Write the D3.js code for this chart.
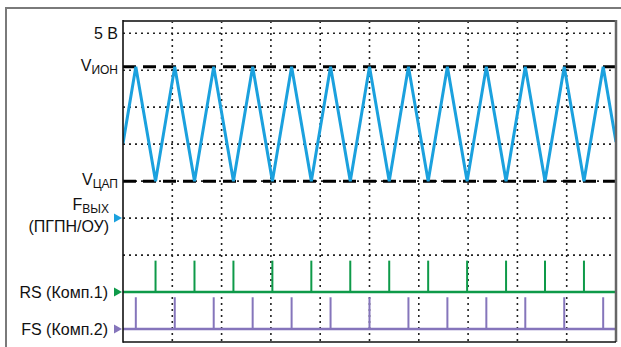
<!DOCTYPE html>
<html>
<head>
<meta charset="utf-8">
<script src="https://cdn.jsdelivr.net/npm/d3@7"></script>
<style>
  body { margin: 0; background: #fff; }
  text { font-family: "Liberation Sans", Arial, sans-serif; fill: #111; }
</style>
</head>
<body>
<script>
// time in grid divisions, levels in volts (1 division = 1 V)
const peakTimes = [0.26, 1.05, 1.84, 2.63, 3.42, 4.21, 5.00, 5.79, 6.58, 7.37, 8.16, 8.95, 9.74]
const troughTimes = [0.66, 1.45, 2.24, 3.03, 3.82, 4.61, 5.40, 6.19, 6.98, 7.77, 8.56, 9.35]
const waveEnds = [2.02, 2.06]        // wave value at left / right edge
const vIon = 4.09
const vDac = 1.0
const gridTimes = [1, 2, 3, 4, 5, 6, 7, 8, 9]
const gridLevels = [5, 4, 3, 2, 1, 0, -1, -2, -3]
const rsLevels = [-2, -1.15]         // baseline, pulse top
const fsLevels = [-3, -2.14]
const fLevel = 0

const colors = { wave: '#1ba1de', rs: '#0e9a49', fs: '#8575bb' }

const W = 621, H = 347
const plot = { left: 123, right: 616, top: 21, bottom: 342 }

const x = d3.scaleLinear().domain([0, 10]).range([plot.left, plot.right])
const y = d3.scaleLinear().domain([-3.35, 5.33]).range([plot.bottom, plot.top])

const svg = d3.select('body').append('svg')
  .attr('width', W)
  .attr('height', H)

// outer frame (runs off the right/bottom edge)
svg.append('rect')
  .attr('x', 6).attr('y', 8)
  .attr('width', 700).attr('height', 400)
  .attr('fill', 'none')
  .attr('stroke', '#7a7a7a')
  .attr('stroke-width', 2)

svg.append('clipPath').attr('id', 'clip')
  .append('rect')
  .attr('x', plot.left).attr('y', plot.top)
  .attr('width', plot.right - plot.left)
  .attr('height', plot.bottom - plot.top)

const g = svg.append('g').attr('clip-path', 'url(#clip)')

// dotted grid
g.selectAll('.hgrid')
  .data(gridLevels)
  .enter().append('line')
  .attr('class', 'hgrid')
  .attr('x1', plot.left).attr('x2', plot.right)
  .attr('y1', d => y(d)).attr('y2', d => y(d))
  .attr('stroke', '#222')
  .attr('stroke-width', 1.6)
  .attr('stroke-dasharray', '2,4')

g.selectAll('.vgrid')
  .data(gridTimes)
  .enter().append('line')
  .attr('class', 'vgrid')
  .attr('x1', d => x(d)).attr('x2', d => x(d))
  .attr('y1', plot.top).attr('y2', plot.bottom)
  .attr('stroke', '#222')
  .attr('stroke-width', 1.6)
  .attr('stroke-dasharray', '2,4')

// reference levels
g.selectAll('.ref')
  .data([vIon, vDac])
  .enter().append('line')
  .attr('class', 'ref')
  .attr('x1', plot.left).attr('x2', plot.right)
  .attr('y1', d => y(d)).attr('y2', d => y(d))
  .attr('stroke', '#000')
  .attr('stroke-width', 3)
  .attr('stroke-dasharray', '13,7')

// triangle wave
const wavePts = [[0, waveEnds[0]]]
  .concat(peakTimes.map(t => [t, vIon]))
  .concat(troughTimes.map(t => [t, vDac]))
  .concat([[10, waveEnds[1]]])
  .sort((a, b) => a[0] - b[0])

g.append('path')
  .datum(wavePts)
  .attr('fill', 'none')
  .attr('stroke', colors.wave)
  .attr('stroke-width', 3)
  .attr('stroke-linejoin', 'miter')
  .attr('d', d3.line().x(d => x(d[0])).y(d => y(d[1])))

// comparator pulses
function drawPulses(times, levels, color) {
  g.append('line')
    .attr('x1', plot.left).attr('x2', plot.right)
    .attr('y1', y(levels[0])).attr('y2', y(levels[0]))
    .attr('stroke', color)
    .attr('stroke-width', 2.6)
  g.selectAll(null)
    .data(times)
    .enter().append('line')
    .attr('x1', d => x(d)).attr('x2', d => x(d))
    .attr('y1', y(levels[0])).attr('y2', y(levels[1]))
    .attr('stroke', color)
    .attr('stroke-width', 2)
}
drawPulses(troughTimes, rsLevels, colors.rs)
drawPulses(peakTimes, fsLevels, colors.fs)

// plot box
svg.append('line').attr('x1', plot.left).attr('x2', plot.right)
  .attr('y1', plot.top).attr('y2', plot.top)
  .attr('stroke', '#444').attr('stroke-width', 1.8)
svg.append('line').attr('x1', plot.right).attr('x2', plot.right)
  .attr('y1', plot.top - 1).attr('y2', plot.bottom)
  .attr('stroke', '#666').attr('stroke-width', 2.5)
svg.append('line').attr('x1', plot.left).attr('x2', plot.left)
  .attr('y1', plot.top - 1).attr('y2', plot.bottom + 0.8)
  .attr('stroke', '#111').attr('stroke-width', 1.6)
svg.append('line').attr('x1', plot.left).attr('x2', plot.right)
  .attr('y1', plot.bottom).attr('y2', plot.bottom)
  .attr('stroke', '#111').attr('stroke-width', 1.6)

// arrow markers
const arrows = [[fLevel, colors.wave], [rsLevels[0], colors.rs], [fsLevels[0], colors.fs]]
svg.selectAll('.arrow')
  .data(arrows)
  .enter().append('path')
  .attr('class', 'arrow')
  .attr('d', d => `M${plot.left - 9},${y(d[0]) - 4.5}L${plot.left - 1},${y(d[0])}L${plot.left - 9},${y(d[0]) + 4.5}Z`)
  .attr('fill', d => d[1])

// labels
const labels = svg.append('g').attr('font-size', '16px')

labels.append('text')
  .attr('x', 118).attr('y', y(5) + 5.5)
  .attr('text-anchor', 'end')
  .text('5 В')

function subLabel(main, sub, xEnd, yBase) {
  const t = labels.append('text')
    .attr('x', xEnd).attr('y', yBase)
    .attr('text-anchor', 'end')
  t.append('tspan').text(main)
  t.append('tspan').attr('font-size', '12px').attr('dy', 3).text(sub)
}
subLabel('V', 'ИОН', 118, y(vIon) + 4)
subLabel('V', 'ЦАП', 118, y(vDac) + 3.5)
subLabel('F', 'ВЫХ', 109, y(fLevel) - 8.5)

labels.append('text')
  .attr('x', 109).attr('y', y(fLevel) + 14)
  .attr('text-anchor', 'end')
  .text('(ПГПН/ОУ)')

labels.append('text')
  .attr('x', 108).attr('y', y(rsLevels[0]) + 5.5)
  .attr('text-anchor', 'end')
  .text('RS (Комп.1)')

labels.append('text')
  .attr('x', 108).attr('y', y(fsLevels[0]) + 5.5)
  .attr('text-anchor', 'end')
  .text('FS (Комп.2)')
</script>
</body>
</html>
